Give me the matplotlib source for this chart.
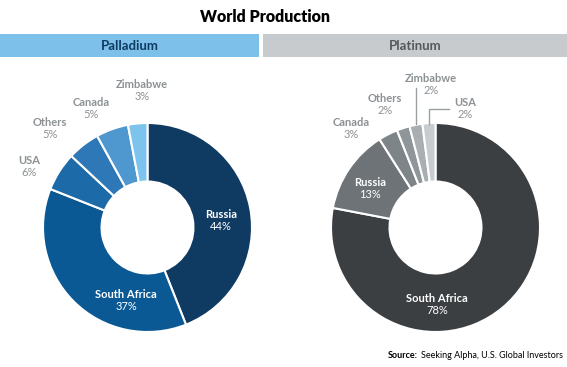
import numpy as np
import matplotlib as mp
import matplotlib.pyplot as plt
from matplotlib.patches import Rectangle

mp.rcParams['font.family'] = 'Lato'

# Palladium world production share (%)
pal_names = ['Russia', 'South Africa', 'USA', 'Others', 'Canada', 'Zimbabwe']
pal_share = [44, 37, 6, 5, 5, 3]
pal_colors = ['#0f3a62', '#0a5994', '#1d6aa8', '#2f78b8', '#4e97cf', '#7cc3ee']

# Platinum world production share (%)
pla_names = ['South Africa', 'Russia', 'Canada', 'Others', 'Zimbabwe', 'USA']
pla_share = [78, 13, 3, 2, 2, 2]
pla_colors = ['#3c3f42', '#6d7377', '#7e8589', '#8f969a', '#a9aeb2', '#c9cccf']

W, H = 567, 367
fig = plt.figure(figsize=(W / 100, H / 100), dpi=100)
ax = fig.add_axes([0, 0, 1, 1])


def yy(y):
    # pixel row -> data y
    return H - y


R = 104.5
hole = 0.44
for cx, vals, cols in [(147.5, pal_share, pal_colors),
                       (435.5, pla_share, pla_colors)]:
    ax.pie(vals, colors=cols, startangle=90, counterclock=False,
           center=(cx, yy(227.5)), radius=R,
           wedgeprops=dict(width=R * (1 - hole), edgecolor='white', linewidth=1.5))

ax.set_xlim(0, W)
ax.set_ylim(0, H)
ax.set_aspect('auto')
ax.axis('off')

# header bars
ax.add_patch(Rectangle((0, yy(57)), 259, 23, color='#7dc1ea', lw=0))
ax.add_patch(Rectangle((263, yy(57)), 304, 23, color='#c8cbcd', lw=0))
ax.text(129.5, yy(45.5), 'Palladium', ha='center', va='center',
        fontsize=9.5, fontweight='bold', color='#0f3a62')
ax.text(415, yy(45.5), 'Platinum', ha='center', va='center',
        fontsize=9.5, fontweight='bold', color='#55595c')

ax.text(265, yy(17), 'World Production', ha='center', va='center',
        fontsize=11.5, fontweight='heavy', color='black')

grey = '#8c9194'


def lab(x, y, name, pct, col):
    ax.text(x, yy(y), name, ha='center', va='center', fontsize=8,
            fontweight='bold', color=col)
    ax.text(x, yy(y + 12), f'{pct}%', ha='center', va='center',
            fontsize=8, color=col)


# palladium labels
pal_pos = {'Russia': (221, 214, 'white'), 'South Africa': (126, 295, 'white'),
           'USA': (29, 160, grey), 'Others': (50, 123, grey),
           'Canada': (91, 102, grey), 'Zimbabwe': (142, 85, grey)}
for n, v in zip(pal_names, pal_share):
    x, y, c = pal_pos[n]
    lab(x, y, n, v, c)

# platinum labels
pla_pos = {'South Africa': (437, 298, 'white'), 'Russia': (370, 183, 'white'),
           'Canada': (351, 122, grey), 'Others': (385, 98, grey),
           'Zimbabwe': (431, 78, grey), 'USA': (465, 102, grey)}
for n, v in zip(pla_names, pla_share):
    x, y, c = pla_pos[n]
    lab(x, y, n, v, c)

# leader lines
ax.plot([416, 416], [yy(88), yy(124)], color='#9a9fa2', lw=1)
ax.plot([429, 429, 449], [yy(124), yy(109), yy(109)], color='#9a9fa2', lw=1)

ax.text(563, yy(356), 'Seeking Alpha, U.S. Global Investors', ha='right',
        va='center', fontsize=6.5, color='black')
ax.text(418, yy(356), 'Source:', ha='right', va='center', fontsize=6.5,
        fontweight='bold', color='black')

fig.savefig('out.png', dpi=100)
